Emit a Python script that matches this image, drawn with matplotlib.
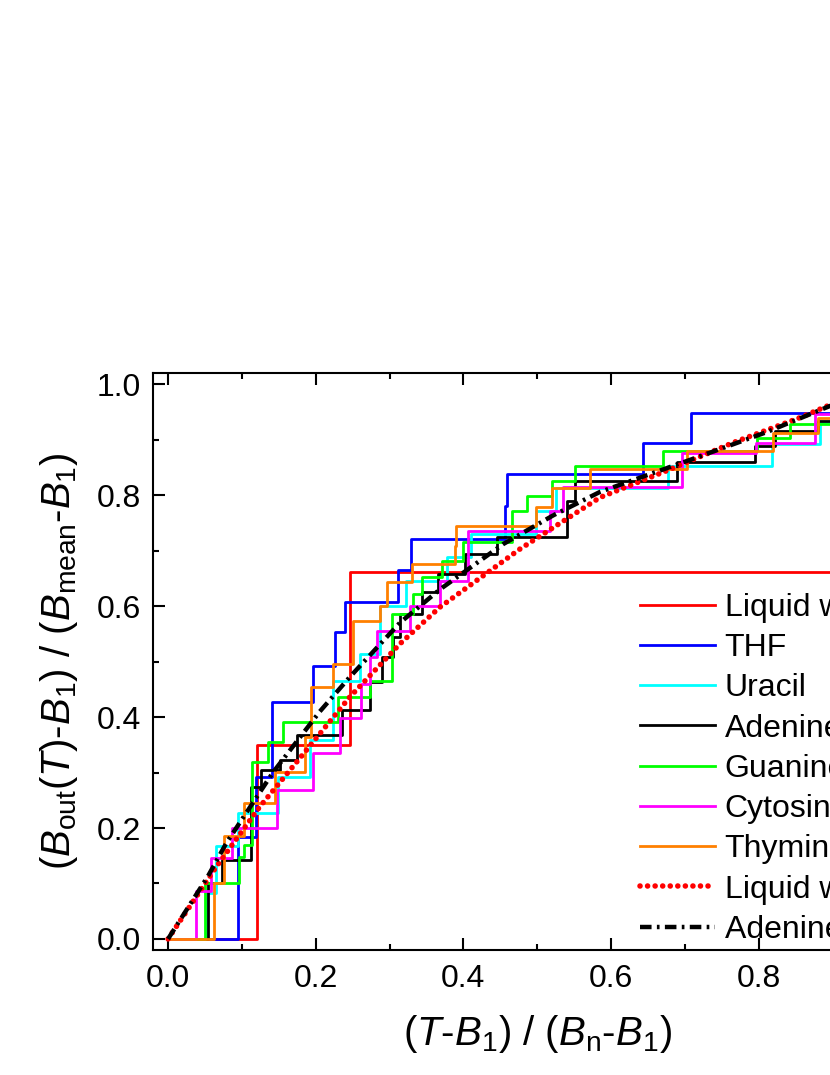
import numpy as np
import matplotlib
matplotlib.use("Agg")
import matplotlib.pyplot as plt

plt.rcParams['font.family'] = ['Liberation Sans', 'DejaVu Sans']
plt.rcParams['mathtext.fontset'] = 'custom'
plt.rcParams['mathtext.rm'] = 'Liberation Sans'
plt.rcParams['mathtext.it'] = 'Liberation Sans:italic'

# step curves: jump positions and level after the jump
water_x = [0, 0.1206, 0.2462, 1.0]
water_y = [0, 0.350, 0.662, 1.0]

thf_x = [0, 0.0949, 0.119, 0.1414, 0.1965, 0.2259, 0.2394, 0.3117, 0.3289, 0.4562, 0.4594, 0.6428, 0.7078, 1.0]
thf_y = [0, 0.183, 0.292, 0.427, 0.4916, 0.553, 0.607, 0.6655, 0.721, 0.781, 0.838, 0.894, 0.948, 1.0]

ura_x = [0, 0.052, 0.0656, 0.0949, 0.149, 0.192, 0.2236, 0.2597, 0.2868, 0.323, 0.3772, 0.411, 0.499, 0.526, 0.6775, 0.8176, 0.883, 1.0]
ura_y = [0, 0.083, 0.167, 0.227, 0.2925, 0.358, 0.466, 0.514, 0.601, 0.646, 0.688, 0.730, 0.772, 0.814, 0.853, 0.892, 0.931, 1.0]

ade_x = [0, 0.0542, 0.0737, 0.113, 0.126, 0.1514, 0.174, 0.235, 0.2733, 0.2892, 0.305, 0.314, 0.3434, 0.366, 0.402, 0.445, 0.540, 0.551, 0.689, 0.795, 0.822, 0.8808, 1.0]
ade_y = [0, 0.1007, 0.1426, 0.2745, 0.305, 0.3225, 0.3675, 0.412, 0.4633, 0.508, 0.544, 0.586, 0.625, 0.658, 0.694, 0.724, 0.790, 0.826, 0.8597, 0.889, 0.916, 0.934, 1.0]

gua_x = [0, 0.05, 0.0965, 0.1026, 0.114, 0.1355, 0.156, 0.2304, 0.2733, 0.3027, 0.332, 0.3434, 0.3705, 0.40, 0.4653, 0.4865, 0.5195, 0.551, 0.6707, 0.7973, 0.8424, 1.0]
gua_y = [0, 0.10, 0.1486, 0.17, 0.3195, 0.3555, 0.391, 0.436, 0.466, 0.586, 0.622, 0.652, 0.682, 0.715, 0.772, 0.799, 0.826, 0.853, 0.88, 0.904, 0.929, 1.0]

cyt_x = [0, 0.0385, 0.0588, 0.0872, 0.1477, 0.1965, 0.2327, 0.262, 0.2733, 0.283, 0.3275, 0.368, 0.4065, 0.517, 0.535, 0.6957, 0.797, 0.876, 1.0]
cyt_y = [0, 0.0856, 0.1457, 0.1996, 0.2685, 0.3345, 0.3975, 0.46, 0.508, 0.556, 0.601, 0.646, 0.736, 0.772, 0.815, 0.877, 0.895, 0.946, 1.0]

thy_x = [0, 0.0619, 0.0755, 0.103, 0.1446, 0.1852, 0.194, 0.2236, 0.2507, 0.287, 0.296, 0.33, 0.3885, 0.3905, 0.499, 0.5195, 0.571, 0.7024, 0.82, 0.8808, 1.0]
thy_y = [0, 0.1007, 0.186, 0.2446, 0.3015, 0.3645, 0.4545, 0.496, 0.573, 0.601, 0.643, 0.677, 0.709, 0.745, 0.778, 0.814, 0.847, 0.88, 0.913, 0.94, 1.0]

# smooth curves
wfit_x = [0, 0.0656, 0.1243, 0.1875, 0.2462, 0.314, 0.368, 0.4766, 0.585, 0.675, 0.7656, 0.856, 0.8966, 1.0]
wfit_y = [0, 0.1306, 0.2385, 0.3405, 0.4363, 0.532, 0.598, 0.703, 0.796, 0.844, 0.895, 0.94, 0.963, 1.0]

afit_x = [0, 0.054, 0.079, 0.142, 0.2055, 0.246, 0.314, 0.368, 0.454, 0.522, 0.585, 0.72, 0.811, 0.8966, 1.0]
afit_y = [0, 0.113, 0.173, 0.300, 0.410, 0.472, 0.570, 0.630, 0.712, 0.764, 0.806, 0.870, 0.914, 0.961, 1.0]

labels = ['Liquid water', 'THF', 'Uracil', 'Adenine', 'Guanine', 'Cytosine', 'Thymine',
          'Liquid water fit', 'Adenine fit']

fig = plt.figure(figsize=(8.3, 10.75), dpi=100)
ax = fig.add_axes([153.3/830, 1-950/1075, (921-153.3)/830, (950-373.3)/1075])

steps = [(water_x, water_y, '#ff0000'), (thf_x, thf_y, '#0000ff'), (ura_x, ura_y, '#00ffff'),
         (ade_x, ade_y, '#000000'), (gua_x, gua_y, '#00ff00'), (cyt_x, cyt_y, '#ff00ff'),
         (thy_x, thy_y, '#ff8000')]
for (xs, ys, c), lab in zip(steps, labels):
    ax.step(xs, ys, where='post', color=c, lw=2.0, label=lab)

ax.plot(wfit_x, wfit_y, color='#ff0000', lw=4.0, linestyle=(0, (0.01, 1.35)),
        dash_capstyle='round', label=labels[7])
ax.plot(afit_x, afit_y, color='black', lw=3.2, linestyle=(0, (2.6, 1.2, 0.6, 1.2)),
        label=labels[8])

ax.set_xlim(-0.02, 1.02)
ax.set_ylim(-0.02, 1.02)
ax.set_xticks(np.arange(0, 1.01, 0.2))
ax.set_yticks(np.arange(0, 1.01, 0.2))
ax.set_xticks(np.arange(0, 1.01, 0.1), minor=True)
ax.set_yticks(np.arange(0, 1.01, 0.1), minor=True)
ax.xaxis.set_major_formatter(matplotlib.ticker.FormatStrFormatter('%.1f'))
ax.yaxis.set_major_formatter(matplotlib.ticker.FormatStrFormatter('%.1f'))
ax.tick_params(which='both', direction='in', top=True, right=True, width=1.5, labelsize=23)
ax.tick_params(which='major', length=8.5)
ax.tick_params(which='minor', length=4.5)
ax.tick_params(axis='x', pad=10)
ax.tick_params(axis='y', pad=9)
for s in ax.spines.values():
    s.set_linewidth(1.5)

ax.set_xlabel('($\\mathit{T}$-$\\mathit{B}_{1}$) / ($\\mathit{B}_\\mathrm{n}$-$\\mathit{B}_{1}$)',
              fontsize=29, labelpad=14)
ax.set_ylabel('($\\mathit{B}_\\mathrm{out}$($\\mathit{T}$)-$\\mathit{B}_{1}$) / ($\\mathit{B}_\\mathrm{mean}$-$\\mathit{B}_{1}$)',
              fontsize=29, labelpad=12)

ax.legend(loc='upper left', bbox_to_anchor=(640/830, 1-593/1075), bbox_transform=fig.transFigure,
          frameon=False, fontsize=23, borderpad=0, borderaxespad=0, handlelength=2.35,
          handletextpad=0.3, labelspacing=0.32)

fig.savefig('out.png', dpi=100)
